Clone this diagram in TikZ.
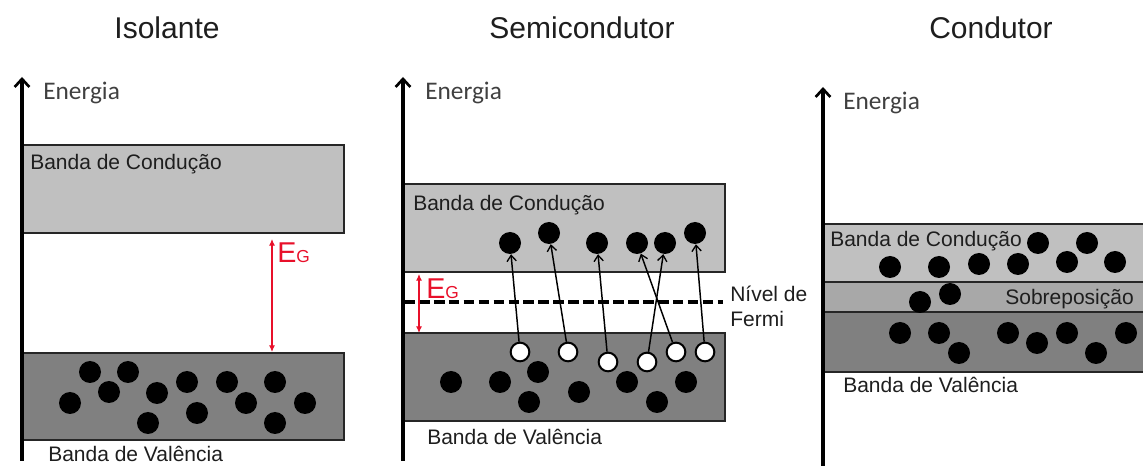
\documentclass[tikz,border=0pt]{standalone}
\usepackage{fontspec}
\setmainfont{Liberation Sans}
\newfontfamily\calib{Carlito}
\usetikzlibrary{arrows.meta}
\definecolor{cband}{HTML}{C0C0C0}
\definecolor{vband}{HTML}{808080}
\definecolor{oband}{HTML}{A8A8A8}
\definecolor{txt}{HTML}{1E1E1E}
\definecolor{egred}{HTML}{E8102A}
\begin{document}
\begin{tikzpicture}[x=0.75pt,y=-0.75pt,
 band/.style={draw=black!85, line width=1.6pt},
 axis/.style={line width=2.4pt, -{Straight Barb[length=6pt,width=11pt,line width=2pt]}},
 elec/.style={circle, fill=black, inner sep=0pt, minimum size=16.5pt},
 hole/.style={circle, fill=white, draw=black, line width=1.5pt, inner sep=0pt, minimum size=14pt},
 lbl/.style={font=\fontsize{15.75}{18}\selectfont, text=txt, inner sep=0pt, anchor=base west},
 title/.style={font=\fontsize{22.5}{26}\selectfont, text=txt, inner sep=0pt, anchor=base},
 energy/.style={font=\calib\fontsize{19}{20}\selectfont, text=black!75, inner sep=0pt, anchor=base west},
 jump/.style={line width=1.1pt, -{Straight Barb[length=4.5pt,width=7pt,line width=1pt]}},
 gap/.style={egred, line width=0.8pt, {Latex[length=5pt,width=4.5pt]}-{Latex[length=5pt,width=4.5pt]}},
 eg/.style={text=egred, font=\fontsize{21.5}{24}\selectfont, inner sep=0pt, anchor=base west},
]
\useasboundingbox (0,0) rectangle (1143,466);

% ---------------- titles
\node[title] (t1) at (167,39) {Isolante};
\node[title] (t2) at (582,39) {Semicondutor};
\node[title] (t3) at (991,39) {Condutor};

% ---------------- Isolante
\draw[band, fill=cband] (22,145) rectangle (344,233);
\draw[band, fill=vband] (22,353) rectangle (344,440);
\draw[axis] (22,461) -- (22,77);
\node[energy] (ie) at (43,100) {Energia};
\node[lbl] (icb) at (30,170) {Banda de Condução};
\node[lbl] (ivb) at (48,462) {Banda de Valência};
\draw[gap] (272,239) -- (272,352);
\node[eg] (ieg) at (277,263) {E{\fontsize{13}{14}\selectfont G}};
\foreach \x/\y [count=\i] in {90/372,128/372,109/392,70/403,157/393,148/423,187/382,197/413,227/382,246/403,275/382,275/423,305/403}
  \node[elec] (iv\i) at (\x,\y) {};

% ---------------- Semicondutor
\draw[band, fill=cband] (403,184) rectangle (725,272);
\draw[band, fill=vband] (403,333) rectangle (725,421);
\draw[axis] (403,461) -- (403,77);
\node[energy] (se) at (425,100) {Energia};
\node[lbl] (scb) at (413,211) {Banda de Condução};
\node[lbl] (svb) at (427,445) {Banda de Valência};
\draw[line width=2.5pt, dash pattern=on 8pt off 3.2pt] (404,302) -- (723,302);
\node[lbl] (sf1) at (730,302) {Nível de};
\node[lbl] (sf2) at (730,327) {Fermi};
\draw[gap] (419,274) -- (419,333);
\node[eg] (seg) at (426,299) {E{\fontsize{13}{14}\selectfont G}};
\foreach \x/\y [count=\i] in {451/382,500/382,538/372,529/402,579/392,627/382,657/402,686/382}
  \node[elec] (sv\i) at (\x,\y) {};
\foreach \x/\y [count=\i] in {510/243,549/233,597/243,637/243,665/243,695/233}
  \node[elec] (se\i) at (\x,\y) {};
\foreach \x/\y [count=\i] in {520/352,568/352,608/362,647/362,676/352,705/352}
  \node[hole] (sh\i) at (\x,\y) {};
\draw[jump] (sh1) -- (se1);
\draw[jump] (sh2) -- (se2);
\draw[jump] (sh3) -- (se3);
\draw[jump] (sh4) -- (se5);
\draw[jump] (sh5) -- (se4);
\draw[jump] (sh6) -- (se6);

% ---------------- Condutor
\draw[band, fill=cband] (823,224) rectangle (1146,282);
\draw[band, fill=oband] (823,282) rectangle (1146,312);
\draw[band, fill=vband] (823,312) rectangle (1146,372);
\draw[axis] (823,467) -- (823,87);
\node[energy] (ce) at (843,110) {Energia};
\node[lbl] (ccb) at (830,247) {Banda de Condução};
\node[lbl, anchor=base east] (cov) at (1134,305) {Sobreposição};
\node[lbl] (cvb) at (843,393) {Banda de Valência};
\foreach \x/\y [count=\i] in {890/267,939/267,979/264,1018/264,1038/243,1087/243,1067/262,1115/262}
  \node[elec] (cc\i) at (\x,\y) {};
\foreach \x/\y [count=\i] in {920/302,950/294}
  \node[elec] (co\i) at (\x,\y) {};
\foreach \x/\y [count=\i] in {900/333,939/333,959/353,1008/333,1037/343,1067/333,1096/353,1126/333}
  \node[elec] (cv\i) at (\x,\y) {};
\end{tikzpicture}
\end{document}
